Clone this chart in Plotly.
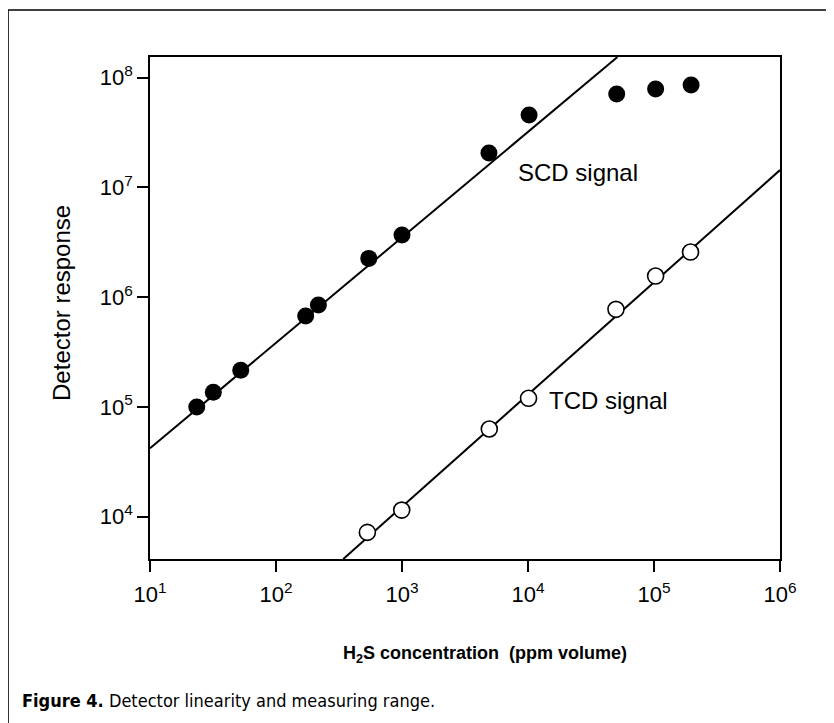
import plotly.graph_objects as go

# ---- data ----
scd_conc = [23.5, 31.8, 52.5, 172, 217, 545, 1000, 4900, 10200, 50600, 103000, 197000]
scd_resp = [1.0e5, 1.36e5, 2.16e5, 6.74e5, 8.49e5, 2.26e6, 3.69e6, 2.06e7, 4.57e7, 7.1e7, 7.9e7, 8.58e7]

tcd_conc = [531, 995, 4930, 10100, 49900, 103000, 195000]
tcd_resp = [7.2e3, 1.15e4, 6.3e4, 1.2e5, 7.76e5, 1.56e6, 2.58e6]

scd_fit_x = [10, 51300]
scd_fit_y = [4.2e4, 1.545e8]
tcd_fit_x = [342, 1.0e6]
tcd_fit_y = [4.12e3, 1.44e7]

x_tickvals = [1e1, 1e2, 1e3, 1e4, 1e5, 1e6]
x_ticktext = ["10<sup>1</sup>", "10<sup>2</sup>", "10<sup>3</sup>", "10<sup>4</sup>", "10<sup>5</sup>", "10<sup>6</sup>"]
y_tickvals = [1e4, 1e5, 1e6, 1e7, 1e8]
y_ticktext = ["10<sup>4</sup>", "10<sup>5</sup>", "10<sup>6</sup>", "10<sup>7</sup>", "10<sup>8</sup>"]

FONT = "Liberation Sans, Arial, Helvetica, sans-serif"
NARROW = "DejaVu Sans Condensed, Liberation Sans Narrow, sans-serif"

fig = go.Figure()
fig.add_trace(go.Scatter(x=scd_fit_x, y=scd_fit_y, mode="lines",
                         line=dict(color="black", width=2), showlegend=False, hoverinfo="skip"))
fig.add_trace(go.Scatter(x=tcd_fit_x, y=tcd_fit_y, mode="lines",
                         line=dict(color="black", width=2), showlegend=False, hoverinfo="skip"))
fig.add_trace(go.Scatter(x=scd_conc, y=scd_resp, mode="markers", name="SCD signal",
                         marker=dict(symbol="circle", size=17, color="black",
                                     line=dict(color="black", width=0)),
                         showlegend=False, cliponaxis=False))
fig.add_trace(go.Scatter(x=tcd_conc, y=tcd_resp, mode="markers", name="TCD signal",
                         marker=dict(symbol="circle", size=16, color="white",
                                     line=dict(color="black", width=1.6)),
                         showlegend=False, cliponaxis=False))

axis_common = dict(type="log", showgrid=False, zeroline=False, showline=True,
                   linecolor="black", linewidth=1.6, mirror=True,
                   ticks="outside", ticklen=11, tickwidth=1.6, tickcolor="black",
                   tickmode="array", tickfont=dict(family=FONT, size=22, color="black"))

fig.update_layout(
    width=826, height=715, autosize=False,
    margin=dict(l=142, r=54, t=49, b=164),
    paper_bgcolor="white", plot_bgcolor="white",
    xaxis=dict(range=[1, 6], tickvals=x_tickvals, ticktext=x_ticktext,
               ticklabelstandoff=4, **axis_common),
    yaxis=dict(range=[3.615, 8.189], tickvals=y_tickvals, ticktext=y_ticktext, **axis_common),
    annotations=[
        dict(text="Detector response", xref="paper", yref="paper", x=-0.1397, y=0.51,
             textangle=-90, showarrow=False, xanchor="center", yanchor="middle",
             font=dict(family=FONT, size=24, color="black")),
        dict(text="<b>H<sub>2</sub>S concentration  (ppm volume)</b>", xref="paper", yref="paper",
             x=0.532, y=-0.191, showarrow=False, xanchor="center", yanchor="middle",
             font=dict(family=FONT, size=18, color="black")),
        dict(text="<b>Figure 4.</b> Detector linearity and measuring range.", xref="paper", yref="paper",
             x=-0.206, y=-0.281, showarrow=False, xanchor="left", yanchor="middle",
             font=dict(family=NARROW, size=18, color="black")),
        dict(text="SCD signal", xref="paper", yref="paper", x=(516 - 150) / 630, y=(559 - 172) / 502,
             showarrow=False, xanchor="left", yanchor="middle",
             font=dict(family=FONT, size=24, color="black")),
        dict(text="TCD signal", xref="paper", yref="paper", x=(547 - 150) / 630, y=(559 - 400) / 502,
             showarrow=False, xanchor="left", yanchor="middle",
             font=dict(family=FONT, size=24, color="black")),
    ],
    shapes=[
        dict(type="line", xref="paper", yref="paper", x0=(8 - 150) / 630, x1=(850 - 150) / 630,
             y0=(559 - 10) / 502, y1=(559 - 10) / 502, line=dict(color="black", width=1.6)),
        dict(type="line", xref="paper", yref="paper", x0=(8 - 150) / 630, x1=(8 - 150) / 630,
             y0=(559 - 10) / 502, y1=(559 - 740) / 502, line=dict(color="black", width=1.6)),
    ],
)

fig.write_html("out.html")
